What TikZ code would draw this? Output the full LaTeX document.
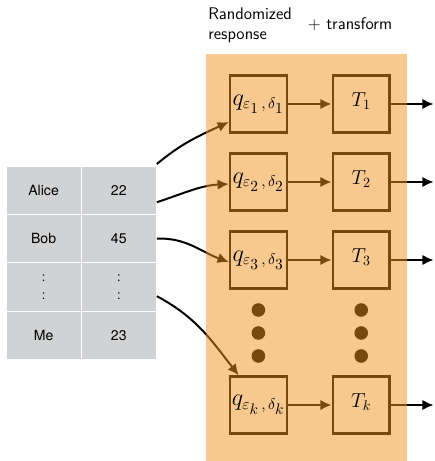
\documentclass[tikz,border=0pt]{standalone}
\usepackage{fontspec}
\newfontfamily\tabfont{TeX Gyre Heros}
\usepackage{xcolor}
\definecolor{panelor}{HTML}{F1931D}
\definecolor{cellgray}{HTML}{D1D2D4}
\usepackage{tikz}
\usetikzlibrary{arrows.meta}

\begin{document}
\begin{tikzpicture}[
  rr/.style={draw, line width=1.8pt, minimum size=1.42cm, inner sep=0pt},
  lbl/.style={inner sep=0pt, font=\fontsize{16}{18}\selectfont},
  tl/.style={inner sep=0pt, font=\Large},
  cell/.style={fill=cellgray, draw=white, line width=0.8pt,
               minimum width=1.875cm, minimum height=1.21cm, font=\tabfont},
  link/.style={-{Latex[length=2.8mm,width=2.6mm]}, line width=1.4pt},
  dot/.style={circle, fill, inner sep=0pt, minimum size=0.34cm}
]
  \useasboundingbox (0,0) rectangle (10.85,11.525);

  % header
  \node[anchor=north west, align=left, font=\sffamily\large, inner sep=0pt] (hrr)
        at (5.2,11.33) {Randomized\\response};
  \node[font=\sffamily\large, inner sep=0pt] (htf) at (8.75,10.93) {$+$ transform};

  % database
  \node[cell] (c11) at (1.09,6.77) {Alice};
  \node[cell] (c12) at (2.97,6.77) {22};
  \node[cell] (c21) at (1.09,5.56) {Bob};
  \node[cell] (c22) at (2.97,5.56) {45};
  \node[cell, align=center, font=\tabfont\small] (c31) at (1.09,4.35) {:\\[2pt]:};
  \node[cell, align=center, font=\tabfont\small] (c32) at (2.97,4.35) {:\\[2pt]:};
  \node[cell] (c41) at (1.09,3.14) {Me};
  \node[cell] (c42) at (2.97,3.14) {23};

  % mechanisms
  \node[rr] (q1) at (6.46,8.925) {};
  \node[rr] (q2) at (6.46,6.975) {};
  \node[rr] (q3) at (6.46,5.025) {};
  \node[rr] (qk) at (6.46,1.4) {};
  \node[rr] (t1) at (9.03,8.925) {};
  \node[rr] (t2) at (9.03,6.975) {};
  \node[rr] (t3) at (9.03,5.025) {};
  \node[rr] (tk) at (9.03,1.4) {};

  \draw[link] (q1)--(t1);
  \draw[link] (q2)--(t2);
  \draw[link] (q3)--(t3);
  \draw[link] (qk)--(tk);

  \coordinate (o1) at (10.84,8.925);
  \coordinate (o2) at (10.84,6.975);
  \coordinate (o3) at (10.84,5.025);
  \coordinate (ok) at (10.84,1.4);
  \draw[link] (t1)--(o1);
  \draw[link] (t2)--(o2);
  \draw[link] (t3)--(o3);
  \draw[link] (tk)--(ok);

  \node[dot] (dq1) at (6.46,3.775) {};
  \node[dot] (dq2) at (6.46,3.2) {};
  \node[dot] (dq3) at (6.46,2.625) {};
  \node[dot] (dt1) at (9.03,3.775) {};
  \node[dot] (dt2) at (9.03,3.2) {};
  \node[dot] (dt3) at (9.03,2.625) {};

  % rows into the mechanisms
  \draw[link] ([yshift=1pt]c12.north east) to[out=40, in=205] ([yshift=-0.45cm]q1.west);
  \draw[link] ([yshift=-0.3cm]c12.east) to[out=18, in=183] ([yshift=-0.05cm]q2.west);
  \draw[link] (c22.east) to[out=2, in=160] ([yshift=-0.05cm]q3.west);
  \draw[link] ([yshift=-0.23cm]c32.east) to[out=-28, in=128] ([xshift=0.25cm]qk.north west);

  % panel
  \fill[panelor, fill opacity=0.5] (5.15,0) rectangle (10.175,10.175);

  \node[lbl] (lq1) at (q1) {$q_{\varepsilon_{\scriptstyle 1}\,,\,\delta_{\scriptstyle 1}}$};
  \node[lbl] (lq2) at (q2) {$q_{\varepsilon_{\scriptstyle 2}\,,\,\delta_{\scriptstyle 2}}$};
  \node[lbl] (lq3) at (q3) {$q_{\varepsilon_{\scriptstyle 3}\,,\,\delta_{\scriptstyle 3}}$};
  \node[lbl] (lqk) at (qk) {$q_{\varepsilon_{\scriptstyle k}\,,\,\delta_{\scriptstyle k}}$};
  \node[tl] (lt1) at ([yshift=2pt]t1) {$T_1$};
  \node[tl] (lt2) at ([yshift=2pt]t2) {$T_2$};
  \node[tl] (lt3) at ([yshift=2pt]t3) {$T_3$};
  \node[tl] (ltk) at ([yshift=2pt]tk) {$T_k$};
\end{tikzpicture}
\end{document}
